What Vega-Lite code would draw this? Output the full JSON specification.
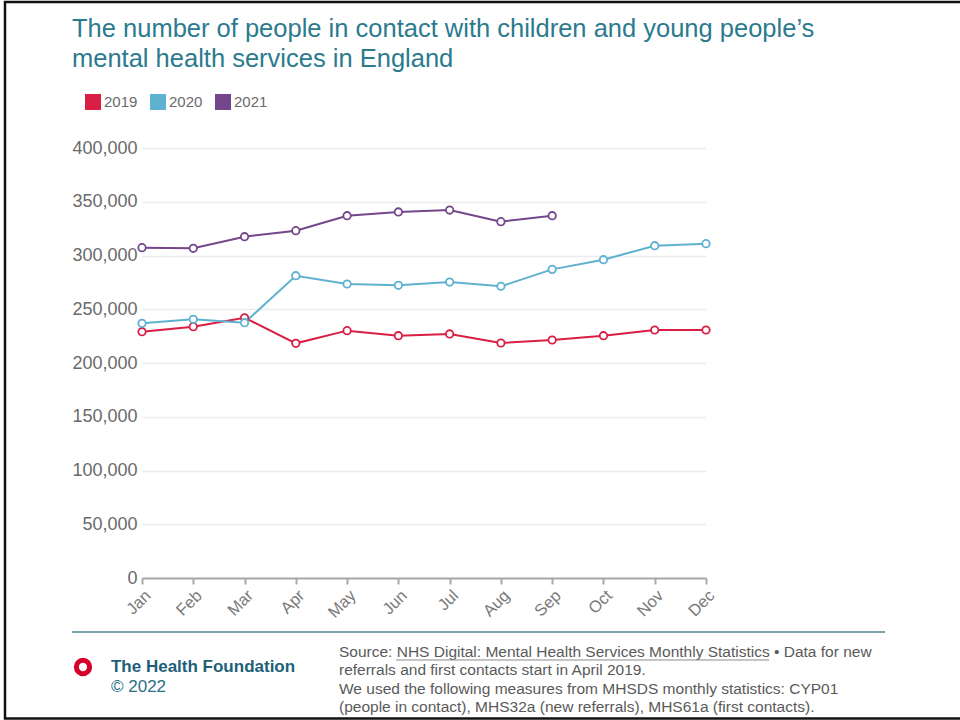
{
  "$schema": "https://vega.github.io/schema/vega-lite/v6.json",
  "width": 564,
  "height": 430,
  "autosize": {"type": "none"},
  "padding": {"left": 142, "top": 148, "right": 254, "bottom": 142},
  "background": "white",
  "config": {
    "font": "Liberation Sans",
    "view": {"stroke": null},
    "axis": {"labelFont": "Liberation Sans", "titleFont": "Liberation Sans"}
  },
  "title": {
    "text": ["The number of people in contact with children and young people’s", "mental health services in England"],
    "anchor": "start",
    "frame": "group",
    "dx": -70,
    "offset": -72,
    "fontSize": 25.5,
    "fontWeight": "normal",
    "color": "#2b7a8e",
    "lineHeight": 30,
    "font": "Liberation Sans"
  },
  "datasets": {
    "series": [
      {"month": 1, "year": "2019", "value": 229100},
      {"month": 2, "year": "2019", "value": 233800},
      {"month": 3, "year": "2019", "value": 242100},
      {"month": 4, "year": "2019", "value": 218300},
      {"month": 5, "year": "2019", "value": 230100},
      {"month": 6, "year": "2019", "value": 225400},
      {"month": 7, "year": "2019", "value": 227000},
      {"month": 8, "year": "2019", "value": 218600},
      {"month": 9, "year": "2019", "value": 221400},
      {"month": 10, "year": "2019", "value": 225400},
      {"month": 11, "year": "2019", "value": 230700},
      {"month": 12, "year": "2019", "value": 230700},
      {"month": 1, "year": "2020", "value": 236900},
      {"month": 2, "year": "2020", "value": 240600},
      {"month": 3, "year": "2020", "value": 237500},
      {"month": 4, "year": "2020", "value": 281200},
      {"month": 5, "year": "2020", "value": 273500},
      {"month": 6, "year": "2020", "value": 272300},
      {"month": 7, "year": "2020", "value": 275300},
      {"month": 8, "year": "2020", "value": 271300},
      {"month": 9, "year": "2020", "value": 287100},
      {"month": 10, "year": "2020", "value": 296100},
      {"month": 11, "year": "2020", "value": 309100},
      {"month": 12, "year": "2020", "value": 311000},
      {"month": 1, "year": "2021", "value": 307300},
      {"month": 2, "year": "2021", "value": 306700},
      {"month": 3, "year": "2021", "value": 317500},
      {"month": 4, "year": "2021", "value": 323100},
      {"month": 5, "year": "2021", "value": 337000},
      {"month": 6, "year": "2021", "value": 340500},
      {"month": 7, "year": "2021", "value": 342300},
      {"month": 8, "year": "2021", "value": 331500},
      {"month": 9, "year": "2021", "value": 337000}
    ],
    "footer": [{"label": "footer"}]
  },
  "layer": [
    {
      "data": {"name": "series"},
      "mark": {"type": "line", "strokeWidth": 2, "point": {"filled": false, "fill": "white", "size": 55, "strokeWidth": 1.8}},
      "encoding": {
        "x": {
          "field": "month", "type": "quantitative",
          "scale": {"domain": [1, 12], "nice": false, "zero": false},
          "axis": {
            "title": null, "values": [1,2,3,4,5,6,7,8,9,10,11,12],
            "labelExpr": "['Jan','Feb','Mar','Apr','May','Jun','Jul','Aug','Sep','Oct','Nov','Dec'][datum.value-1]",
            "grid": false, "domainColor": "#a8a8a8", "domainWidth": 2,
            "tickColor": "#a8a8a8", "tickWidth": 2, "tickSize": 6,
            "labelAngle": -45, "labelFontSize": 16.5, "labelColor": "#7a7a7a", "labelPadding": 3
          }
        },
        "y": {
          "field": "value", "type": "quantitative",
          "scale": {"domain": [0, 400000], "nice": false},
          "axis": {
            "title": null, "values": [0,50000,100000,150000,200000,250000,300000,350000,400000],
            "labelExpr": "format(datum.value, ',')", "domain": false, "ticks": false, "grid": true,
            "gridColor": "#ececec", "gridWidth": 1.5,
            "labelFontSize": 18, "labelColor": "#6a6a6a", "labelPadding": 5
          }
        },
        "color": {
          "field": "year", "type": "nominal",
          "scale": {"domain": ["2019", "2020", "2021"], "range": ["#d81e45", "#5fb1d0", "#74468a"]},
          "legend": {
            "title": null, "orient": "none", "legendX": -57, "legendY": -54,
            "direction": "horizontal", "symbolType": "square", "symbolSize": 256,
            "symbolStrokeWidth": 0, "labelFontSize": 15, "labelColor": "#6a6a6a",
            "columnPadding": 12, "labelOffset": 3, "padding": 0,
            "encode": {"symbols": {"update": {"fill": {"scale": "color", "field": "value"}, "fillOpacity": {"value": 1}, "strokeWidth": {"value": 0}}}}
          }
        }
      }
    },
    {
      "data": {"name": "footer"},
      "mark": {"type": "rect", "fill": null, "stroke": "#111111", "strokeWidth": 2.5},
      "encoding": {
        "x": {"datum": -1.672, "type": "quantitative"},
        "x2": {"datum": 17.246},
        "y": {"datum": 535814, "type": "quantitative"},
        "y2": {"datum": -130698}
      }
    },
    {
      "data": {"name": "footer"},
      "mark": {"type": "rule", "stroke": "#7fa3ae", "strokeWidth": 2},
      "encoding": {
        "x": {"datum": -0.365, "type": "quantitative"},
        "x2": {"datum": 15.491},
        "y": {"datum": -50233, "type": "quantitative"}
      }
    },
    {
      "data": {"name": "footer"},
      "mark": {"type": "point", "shape": "circle", "filled": false, "fill": "white", "stroke": "#d6002a", "strokeWidth": 5, "size": 177, "opacity": 1},
      "encoding": {
        "x": {"datum": -0.151, "type": "quantitative"},
        "y": {"datum": -82791, "type": "quantitative"}
      }
    },
    {
      "data": {"name": "footer"},
      "mark": {"type": "text", "align": "left", "baseline": "alphabetic", "fontSize": 17, "fontWeight": "bold", "color": "#1d5f78", "font": "Liberation Sans"},
      "encoding": {
        "x": {"datum": 0.395, "type": "quantitative"},
        "y": {"datum": -87442, "type": "quantitative"},
        "text": {"value": "The Health Foundation"}
      }
    },
    {
      "data": {"name": "footer"},
      "mark": {"type": "text", "align": "left", "baseline": "alphabetic", "fontSize": 17, "color": "#2a6f86", "font": "Liberation Sans"},
      "encoding": {
        "x": {"datum": 0.395, "type": "quantitative"},
        "y": {"datum": -106047, "type": "quantitative"},
        "text": {"value": "© 2022"}
      }
    },
    {
      "data": {"name": "footer"},
      "mark": {"type": "text", "align": "left", "baseline": "alphabetic", "fontSize": 15.5, "lineHeight": 18.5, "color": "#5a5a5a", "font": "Liberation Sans"},
      "encoding": {
        "x": {"datum": 4.842, "type": "quantitative"},
        "y": {"datum": -73488, "type": "quantitative"},
        "text": {"value": ["Source: NHS Digital: Mental Health Services Monthly Statistics • Data for new", "referrals and first contacts start in April 2019.", "We used the following measures from MHSDS monthly statistics: CYP01", "(people in contact), MHS32a (new referrals), MHS61a (first contacts)."]}
      }
    },
    {
      "data": {"name": "footer"},
      "mark": {"type": "rule", "stroke": "#8a8a8a", "strokeWidth": 1},
      "encoding": {
        "x": {"datum": 5.954, "type": "quantitative"},
        "x2": {"datum": 13.229},
        "y": {"datum": -76279, "type": "quantitative"}
      }
    }
  ]
}
